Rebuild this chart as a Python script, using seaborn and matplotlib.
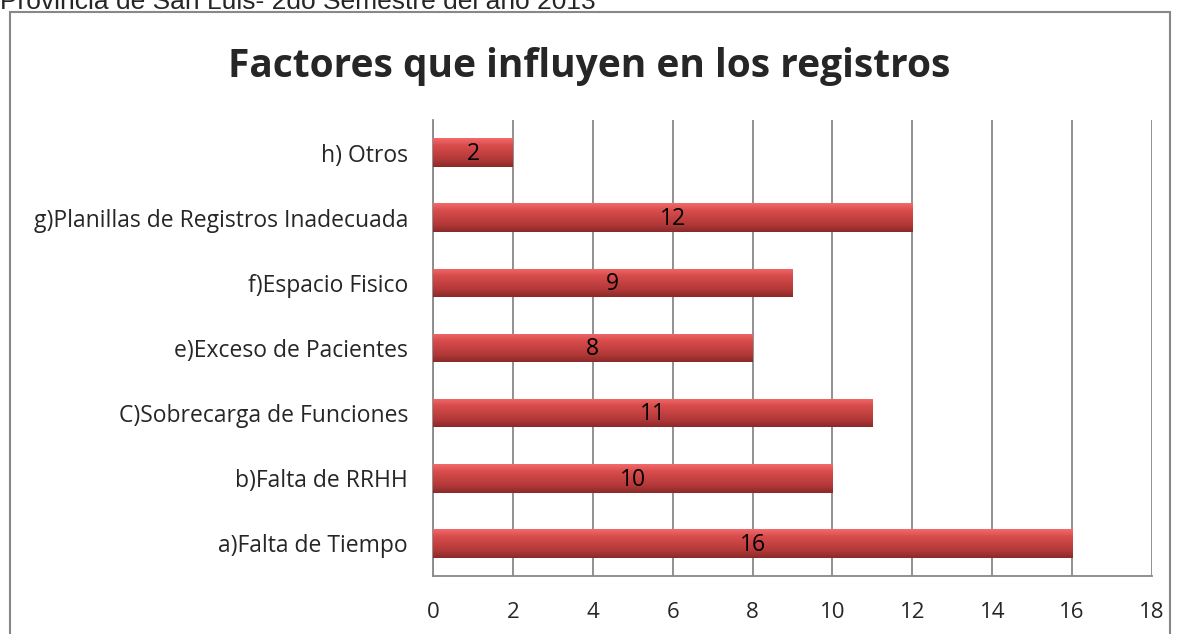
import numpy as np
import pandas as pd
import seaborn as sns
import matplotlib.pyplot as plt
from matplotlib.patches import Rectangle
from matplotlib.colors import LinearSegmentedColormap

# chart data (bottom to top as in the original sheet)
categorias = [
    "a)Falta de Tiempo",
    "b)Falta de RRHH",
    "C)Sobrecarga de Funciones",
    "e)Exceso de Pacientes",
    "f)Espacio Fisico",
    "g)Planillas de Registros Inadecuada",
    "h) Otros",
]
valores = [16, 10, 11, 8, 9, 12, 2]
x_ticks = [0, 2, 4, 6, 8, 10, 12, 14, 16, 18]

df = pd.DataFrame({"factor": categorias, "cantidad": valores})

sns.set_style("white")
plt.rcParams["font.family"] = ["Open Sans", "DejaVu Sans"]

fig = plt.figure(figsize=(11.79, 6.34), dpi=100)
ax = fig.add_axes([0.3673, 0.0915, 0.6098, 0.7192])

sns.barplot(data=df, x="cantidad", y="factor", order=categorias[::-1],
            color="#c94444", edgecolor="none", linewidth=0,
            width=0.44, saturation=1, ax=ax, zorder=3)

# glossy red look: vertical gradient clipped to each bar
grad = LinearSegmentedColormap.from_list(
    "bar", ["#f26a6a", "#d94c4c", "#c64242", "#b23838", "#8a2a2a"])
for p in ax.patches:
    x0, y0 = p.get_x(), p.get_y()
    w, h = p.get_width(), p.get_height()
    im = ax.imshow(np.linspace(0, 1, 64).reshape(-1, 1), cmap=grad,
                   aspect="auto", extent=(x0, x0 + w, y0 + h, y0),
                   origin="upper", zorder=3.5)
    im.set_clip_path(p)

for i, (cat, val) in enumerate(zip(categorias[::-1], valores[::-1])):
    ax.text(val / 2, i + 0.02, str(val), ha="center", va="center",
            fontsize=16.5, color="black", zorder=4)

ax.set_xlim(0, 18)
ax.set_ylim(6.5, -0.5)
ax.set_xticks(x_ticks)
ax.set_xticklabels([str(t) for t in x_ticks], fontsize=16)
ax.tick_params(axis="x", length=0, pad=19)
ax.tick_params(axis="y", length=0, pad=18, labelsize=16.5)
ax.xaxis.grid(True, color="#888888", linewidth=1.3, zorder=0)
ax.set_axisbelow(True)
ax.set_xlabel("")
ax.set_ylabel("")
for side in ["top", "right"]:
    ax.spines[side].set_visible(False)
for side in ["left", "bottom"]:
    ax.spines[side].set_color("#888888")
    ax.spines[side].set_linewidth(1.3)

fig.text(0.5, 0.895, "Factores que influyen en los registros", ha="center",
         va="center", fontsize=28, fontweight="bold")

# outer chart frame and the cut-off line of text above it
fig.patches.append(Rectangle((10 / 1179, -0.05), 1160 / 1179, 1.05 - 12 / 634,
                             transform=fig.transFigure, fill=False,
                             edgecolor="#888888", linewidth=1.5))
fig.text(0.0, 1.0 - 9 / 634, "Provincia de San Luis- 2do Semestre del año 2013",
         ha="left", va="baseline", fontsize=19, family="Liberation Sans")

fig.savefig("out.png", dpi=100)
